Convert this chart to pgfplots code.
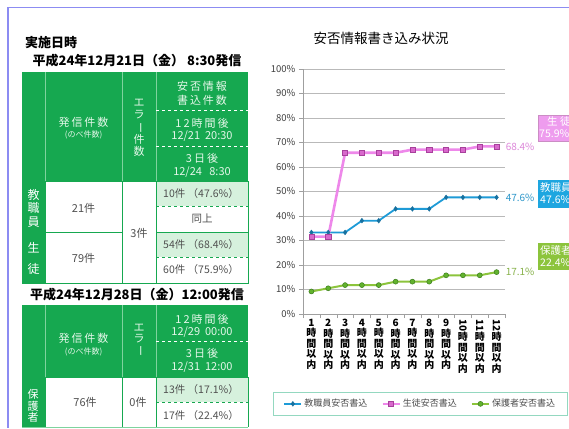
\documentclass[border=0pt]{standalone}
\usepackage{fontspec}
\setmainfont{Noto Sans CJK JP}
\newfontfamily\jpw[LetterSpace=18]{Noto Sans CJK JP}
\usepackage{graphicx}
\usepackage{pgfplots}
\pgfplotsset{compat=1.18}
\definecolor{tgreen}{HTML}{16A850}
\definecolor{tlight}{HTML}{D6F1DD}
\definecolor{thead}{HTML}{E4F7E9}
\definecolor{tline}{HTML}{7FD39E}
\definecolor{bodytxt}{HTML}{505050}
\definecolor{frameblue}{HTML}{8C8CF2}
\definecolor{cteach}{HTML}{1E9BD7}
\definecolor{cteachm}{HTML}{17709F}
\definecolor{cstud}{HTML}{EE88EA}
\definecolor{cstudm}{HTML}{D868CC}
\definecolor{cstudd}{HTML}{A8409C}
\definecolor{cpar}{HTML}{8CC43C}
\definecolor{cparm}{HTML}{62B22E}
\definecolor{cpard}{HTML}{3C7E1E}
\definecolor{legc}{HTML}{94D8C0}
\definecolor{pinkbox}{HTML}{EE9CEE}
\definecolor{bluebox}{HTML}{1EA6E0}
\definecolor{greenbox}{HTML}{8CC43C}
\begin{document}
\begin{tikzpicture}
\useasboundingbox (0,0) rectangle (569pt,-428pt);
\clip (0,0) rectangle (569pt,-428pt);
\fill[white] (0,0) rectangle (569pt,-428pt);
\begin{scope}[x=1pt,y=-1pt,every node/.style={inner sep=0pt},
  hdr/.style={text=thead,font=\fontsize{11}{12}\selectfont\jpw},
  hdrd/.style={text=thead,font=\fontsize{11}{12}\selectfont},
  hdrs/.style={text=thead,font=\fontsize{8}{9}\selectfont},
  bod/.style={text=bodytxt,font=\fontsize{11}{12}\selectfont},
  bodc/.style={text=bodytxt,font=\fontsize{10.5}{12}\selectfont}]
% page frame
\draw[frameblue,line width=1.6pt] (8,7.5)--(569,7.5);
\draw[frameblue,line width=1.6pt] (8,7.5)--(8,428);
% titles
\node[anchor=west,font=\fontsize{13}{14}\selectfont\bfseries] at (25,43) {実施日時};
\node[font=\fontsize{13}{14}\selectfont\bfseries] at (137,61) {平成24年12月21日（金） 8:30発信};
% ---------- table 1 ----------
\fill[tgreen] (22,72) rectangle (248,181);
\fill[tgreen] (22,181) rectangle (45,283);
\fill[tlight] (156,181) rectangle (248,206);
\fill[tlight] (156,232) rectangle (248,257);
\draw[tline,line width=0.6pt] (45,72)--(45,181) (122,72)--(122,181) (156,72)--(156,181);
\draw[white,dashed,line width=0.7pt] (156,110)--(248,110) (156,146)--(248,146);
\draw[tgreen,line width=0.9pt] (22,181) rectangle (248,283);
\draw[tgreen,line width=0.9pt] (45,181)--(45,283) (122,181)--(122,283) (156,181)--(156,283);
\draw[tgreen,line width=0.9pt] (22,232)--(122,232) (156,232)--(248,232);
\draw[tgreen,dashed,line width=0.8pt] (156,206)--(248,206) (156,257)--(248,257);
\node[hdr] at (83.5,122) {発信件数};
\node[hdrs] at (83.5,135) {(のべ件数)};
\node[hdr,align=center,font=\fontsize{11}{12}\selectfont] at (139,128) {エ\\ラ\\\rotatebox[origin=c]{-90}{ー}\\件\\数};
\node[hdr] at (202,86) {安否情報};
\node[hdr] at (202,100) {書込件数};
\node[hdr] at (202,123) {12時間後};
\node[hdrd] at (202,136) {12/21\ \ 20:30};
\node[hdr] at (202,158) {3日後};
\node[hdrd] at (202,172) {12/24\ \ \ 8:30};
\node[align=center,text=white,font=\fontsize{12}{13.5}\selectfont] at (33.5,208) {教\\職\\員};
\node[align=center,text=white,font=\fontsize{12}{21}\selectfont] at (33.5,258) {生\\徒};
\node[bod] at (83.5,208) {21件};
\node[bod] at (83.5,258) {79件};
\node[bod] at (139,233) {3件};
\node[bodc] at (201,194) {10件 （47.6\%）};
\node[bodc] at (202,219) {同上};
\node[bodc] at (201,245) {54件 （68.4\%）};
\node[bodc] at (201,270) {60件 （75.9\%）};
% ---------- table 2 ----------
\node[font=\fontsize{13}{14}\selectfont\bfseries] at (137,295) {平成24年12月28日（金）12:00発信};
\fill[tgreen] (22,305) rectangle (248,377);
\fill[tgreen] (22,377) rectangle (45,428);
\fill[tlight] (156,377) rectangle (248,402);
\draw[tline,line width=0.6pt] (45,305)--(45,377) (122,305)--(122,377) (156,305)--(156,377);
\draw[white,dashed,line width=0.7pt] (156,341)--(248,341);
\draw[tgreen,line width=0.9pt] (22,377)--(248,377) (248,377)--(248,427) (45,377)--(45,427) (122,377)--(122,427) (156,377)--(156,427);
\draw[tline,line width=0.9pt] (22,427)--(248,427);
\draw[tgreen,dashed,line width=0.8pt] (156,402)--(248,402);
\node[hdr] at (83.5,338) {発信件数};
\node[hdrs] at (83.5,352) {(のべ件数)};
\node[hdr,align=center,font=\fontsize{11}{11}\selectfont] at (139,340) {エ\\ラ\\\rotatebox[origin=c]{-90}{ー}};
\node[hdr] at (202,319) {12時間後};
\node[hdrd] at (202,332) {12/29\ \ 00:00};
\node[hdr] at (202,353) {3日後};
\node[hdrd] at (202,367) {12/31\ \ 12:00};
\node[align=center,text=white,font=\fontsize{11}{11.5}\selectfont] at (33,406) {保\\護\\者};
\node[bod] at (85,402) {76件};
\node[bod] at (138,402) {0件};
\node[bodc] at (201,390) {13件 （17.1\%）};
\node[bodc] at (201,416) {17件 （22.4\%）};
% chart title
\node[font=\fontsize{13.5}{14}\selectfont] at (381,38) {安否情報書き込み状況};
\end{scope}
\begin{axis}[
  at={(303pt,-314pt)}, anchor=south west,
  width=202pt, height=245pt, scale only axis,
  xmin=0.5, xmax=12.5, ymin=0, ymax=100,
  clip=false,
  axis lines*=left,
  axis line style={draw=gray!75},
  tick style={draw=gray!75},
  tick align=outside,
  major tick length=4pt, minor tick length=4pt,
  xtick={1,...,12},
  major x tick style={draw=none},
  minor xtick={0.5,1.5,...,12.5},
  xticklabels={{1\\時\\間\\以\\内},{2\\時\\間\\以\\内},{3\\時\\間\\以\\内},{4\\時\\間\\以\\内},{5\\時\\間\\以\\内},{6\\時\\間\\以\\内},{7\\時\\間\\以\\内},{8\\時\\間\\以\\内},{9\\時\\間\\以\\内},{\rotatebox[origin=c]{-90}{10}\\時\\間\\以\\内},{\rotatebox[origin=c]{-90}{11}\\時\\間\\以\\内},{\rotatebox[origin=c]{-90}{12}\\時\\間\\以\\内}},
  xticklabel style={align=center,font=\fontsize{10}{10.5}\selectfont\bfseries,text=black,inner sep=1pt},
  ytick={0,10,...,100},
  yticklabel={\pgfmathprintnumber{\tick}\%},
  yticklabel style={font=\fontsize{9.5}{10}\selectfont,text=black!75},
  /pgf/number format/assume math mode=true,
  ymajorgrids, grid style={draw=gray!55,line width=0.6pt},
  legend style={at={(-0.1485,-0.318)},anchor=north west,draw=legc,line width=0.8pt,
    font=\fontsize{9}{10}\selectfont,text=black!70,inner xsep=10pt,inner ysep=5pt,
    /tikz/every even column/.append style={column sep=12pt}},
  legend columns=3,
  legend cell align=left,
]
\addplot[color=cteach,line width=1.8pt,mark=diamond*,mark size=2.4pt,
  mark options={fill=cteachm,draw=cteachm,line width=0.4pt}]
  coordinates {(1,33.3)(2,33.3)(3,33.3)(4,38.1)(5,38.1)(6,42.9)(7,42.9)(8,42.9)(9,47.6)(10,47.6)(11,47.6)(12,47.6)};
\addlegendentry{教職員安否書込}
\addplot[color=cstud,line width=2.6pt,mark=square*,mark size=2.6pt,
  mark options={fill=cstudm,draw=cstudd,line width=0.5pt}]
  coordinates {(1,31.6)(2,31.6)(3,65.8)(4,65.8)(5,65.8)(6,65.8)(7,67.1)(8,67.1)(9,67.1)(10,67.1)(11,68.4)(12,68.4)};
\addlegendentry{生徒安否書込}
\addplot[color=cpar,line width=2pt,mark=*,mark size=2.5pt,
  mark options={fill=cparm,draw=cpard,line width=0.5pt}]
  coordinates {(1,9.2)(2,10.5)(3,11.8)(4,11.8)(5,11.8)(6,13.2)(7,13.2)(8,13.2)(9,15.8)(10,15.8)(11,15.8)(12,17.1)};
\addlegendentry{保護者安否書込}
\node[anchor=west,inner sep=0pt,xshift=9pt,font=\fontsize{10}{10}\selectfont,text=cstud!85!gray] at (axis cs:12,68.4) {68.4\%};
\node[anchor=west,inner sep=0pt,xshift=9pt,font=\fontsize{10}{10}\selectfont,text=cteach!85!gray] at (axis cs:12,47.6) {47.6\%};
\node[anchor=west,inner sep=0pt,xshift=9pt,font=\fontsize{10}{10}\selectfont,text=cpar!75!gray] at (axis cs:12,17.1) {17.1\%};
\end{axis}
\begin{scope}[x=1pt,y=-1pt,every node/.style={inner sep=0pt,anchor=west,font=\fontsize{10.5}{11}\selectfont}]
\fill[pinkbox] (538,115) rectangle (600,141);
\draw[cstudd!60,line width=0.5pt] (538,115) rectangle (600,141);
\node[text=white] at (547,122) {生 徒};
\node[text=white] at (539,134) {75.9\%};
\fill[bluebox] (538,180) rectangle (600,208);
\node[text=white] at (540,188) {教職員};
\node[text=white] at (540,200) {47.6\%};
\fill[greenbox] (538,243) rectangle (600,270);
\node[text=white] at (540,251) {保護者};
\node[text=white] at (540,263) {22.4\%};
\end{scope}
\end{tikzpicture}
\end{document}
